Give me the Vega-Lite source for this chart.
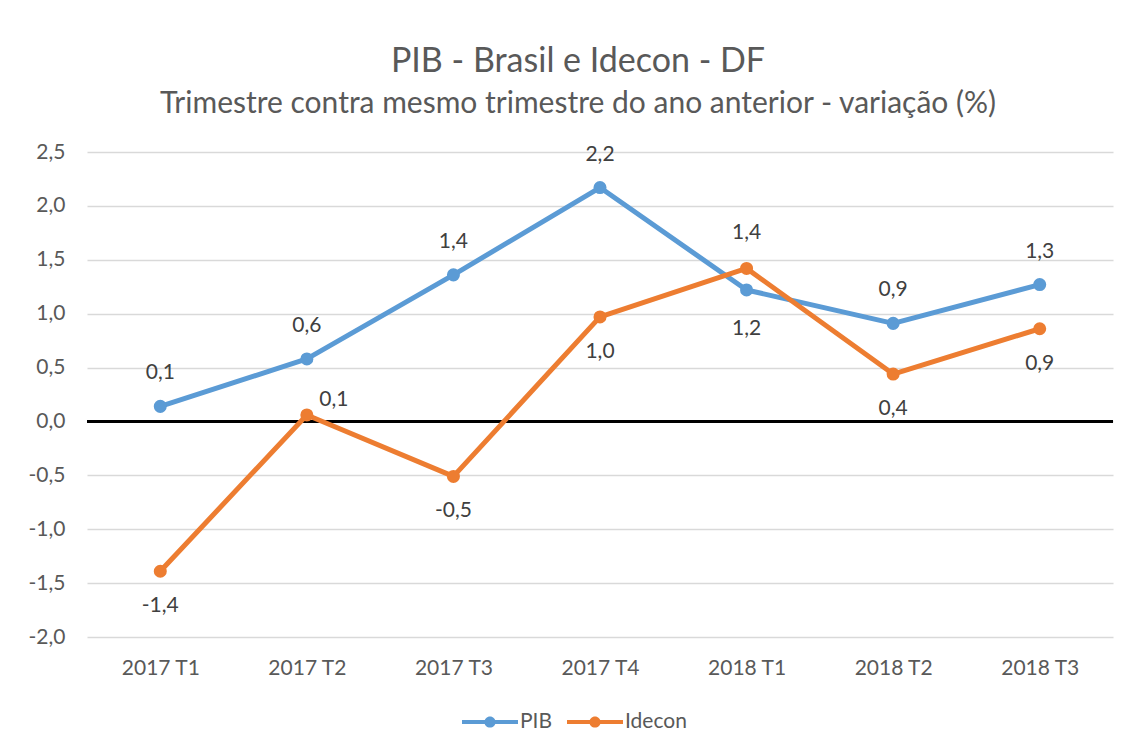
{
  "$schema": "https://vega.github.io/schema/vega-lite/v6.json",
  "width": 1026,
  "height": 485,
  "autosize": {"type": "none"},
  "padding": {"left": 87, "top": 152, "right": 16, "bottom": 114},
  "background": "white",
  "title": {
    "text": "PIB - Brasil e Idecon - DF",
    "subtitle": "Trimestre contra mesmo trimestre do ano anterior - variação (%)",
    "anchor": "middle",
    "dx": -22,
    "offset": 22,
    "font": "Lato",
    "fontSize": 34,
    "fontWeight": "normal",
    "color": "#595959",
    "subtitleFont": "Lato",
    "subtitleFontSize": 30,
    "subtitleColor": "#595959",
    "subtitlePadding": 10
  },
  "data": {
    "values": [
      {"trimestre": "2017 T1", "serie": "PIB", "valor": 0.14},
      {"trimestre": "2017 T2", "serie": "PIB", "valor": 0.58},
      {"trimestre": "2017 T3", "serie": "PIB", "valor": 1.36},
      {"trimestre": "2017 T4", "serie": "PIB", "valor": 2.17},
      {"trimestre": "2018 T1", "serie": "PIB", "valor": 1.22},
      {"trimestre": "2018 T2", "serie": "PIB", "valor": 0.91},
      {"trimestre": "2018 T3", "serie": "PIB", "valor": 1.27},
      {"trimestre": "2017 T1", "serie": "Idecon", "valor": -1.39},
      {"trimestre": "2017 T2", "serie": "Idecon", "valor": 0.06},
      {"trimestre": "2017 T3", "serie": "Idecon", "valor": -0.51},
      {"trimestre": "2017 T4", "serie": "Idecon", "valor": 0.97},
      {"trimestre": "2018 T1", "serie": "Idecon", "valor": 1.42},
      {"trimestre": "2018 T2", "serie": "Idecon", "valor": 0.44},
      {"trimestre": "2018 T3", "serie": "Idecon", "valor": 0.86}
    ]
  },
  "encoding": {
    "x": {
      "field": "trimestre",
      "type": "ordinal",
      "sort": null,
      "scale": {"type": "point", "padding": 0.5},
      "axis": {
        "title": null,
        "labelAngle": 0,
        "domain": false,
        "ticks": false,
        "grid": false,
        "labelPadding": 20,
        "labelFont": "Lato",
        "labelFontSize": 21,
        "labelColor": "#595959"
      }
    },
    "y": {
      "field": "valor",
      "type": "quantitative",
      "scale": {"domain": [-2, 2.5], "nice": false},
      "axis": {
        "title": null,
        "values": [-2, -1.5, -1, -0.5, 0, 0.5, 1, 1.5, 2, 2.5],
        "format": ".1f",
        "domain": false,
        "ticks": false,
        "gridColor": "#d9d9d9",
        "gridWidth": 1.5,
        "labelPadding": 22,
        "labelFont": "Lato",
        "labelFontSize": 21,
        "labelColor": "#595959"
      }
    },
    "color": {
      "field": "serie",
      "type": "nominal",
      "sort": ["PIB", "Idecon"],
      "scale": {"domain": ["PIB", "Idecon"], "range": ["#5B9BD5", "#ED7D31"]},
      "legend": {
        "title": null,
        "orient": "none",
        "direction": "horizontal",
        "legendX": 375,
        "legendY": 542,
        "symbolType": "M-1,-0.07L1,-0.07L1,0.07L-1,0.07Z M-0.2,0 A0.2,0.2 0 1,1 0.2,0 A0.2,0.2 0 1,1 -0.2,0 Z",
        "symbolSize": 3136,
        "symbolStrokeWidth": 0,
        "labelFont": "Lato",
        "labelFontSize": 21,
        "labelColor": "#595959",
        "labelOffset": 2,
        "columnPadding": 14
      }
    }
  },
  "layer": [
    {
      "mark": {"type": "rule", "color": "black", "strokeWidth": 3},
      "encoding": {"y": {"datum": 0}, "x": null, "color": null}
    },
    {
      "mark": {"type": "line", "strokeWidth": 5, "strokeCap": "round", "strokeJoin": "round"}
    },
    {
      "mark": {"type": "point", "filled": true, "size": 170, "opacity": 1}
    },
    {
      "transform": [{"filter": "datum.serie == 'PIB' && datum.trimestre != '2018 T1'"}],
      "mark": {"type": "text", "dy": -33, "font": "Lato", "fontSize": 21, "color": "#404040"},
      "encoding": {"text": {"field": "valor", "format": ".1f"}, "color": null}
    },
    {
      "transform": [{"filter": "datum.serie == 'PIB' && datum.trimestre == '2018 T1'"}],
      "mark": {"type": "text", "dy": 39, "font": "Lato", "fontSize": 21, "color": "#404040"},
      "encoding": {"text": {"field": "valor", "format": ".1f"}, "color": null}
    },
    {
      "transform": [{"filter": "datum.serie == 'Idecon' && datum.trimestre != '2018 T1' && datum.trimestre != '2017 T2'"}],
      "mark": {"type": "text", "dy": 35, "font": "Lato", "fontSize": 21, "color": "#404040"},
      "encoding": {"text": {"field": "valor", "format": ".1f"}, "color": null}
    },
    {
      "transform": [{"filter": "datum.serie == 'Idecon' && datum.trimestre == '2018 T1'"}],
      "mark": {"type": "text", "dy": -35, "font": "Lato", "fontSize": 21, "color": "#404040"},
      "encoding": {"text": {"field": "valor", "format": ".1f"}, "color": null}
    },
    {
      "transform": [{"filter": "datum.serie == 'Idecon' && datum.trimestre == '2017 T2'"}],
      "mark": {"type": "text", "dx": 27, "dy": -15, "font": "Lato", "fontSize": 21, "color": "#404040"},
      "encoding": {"text": {"field": "valor", "format": ".1f"}, "color": null}
    }
  ],
  "config": {
    "locale": {
      "number": {"decimal": ",", "thousands": ".", "grouping": [3], "currency": ["R$", ""], "minus": "-"}
    },
    "view": {"stroke": null}
  }
}
